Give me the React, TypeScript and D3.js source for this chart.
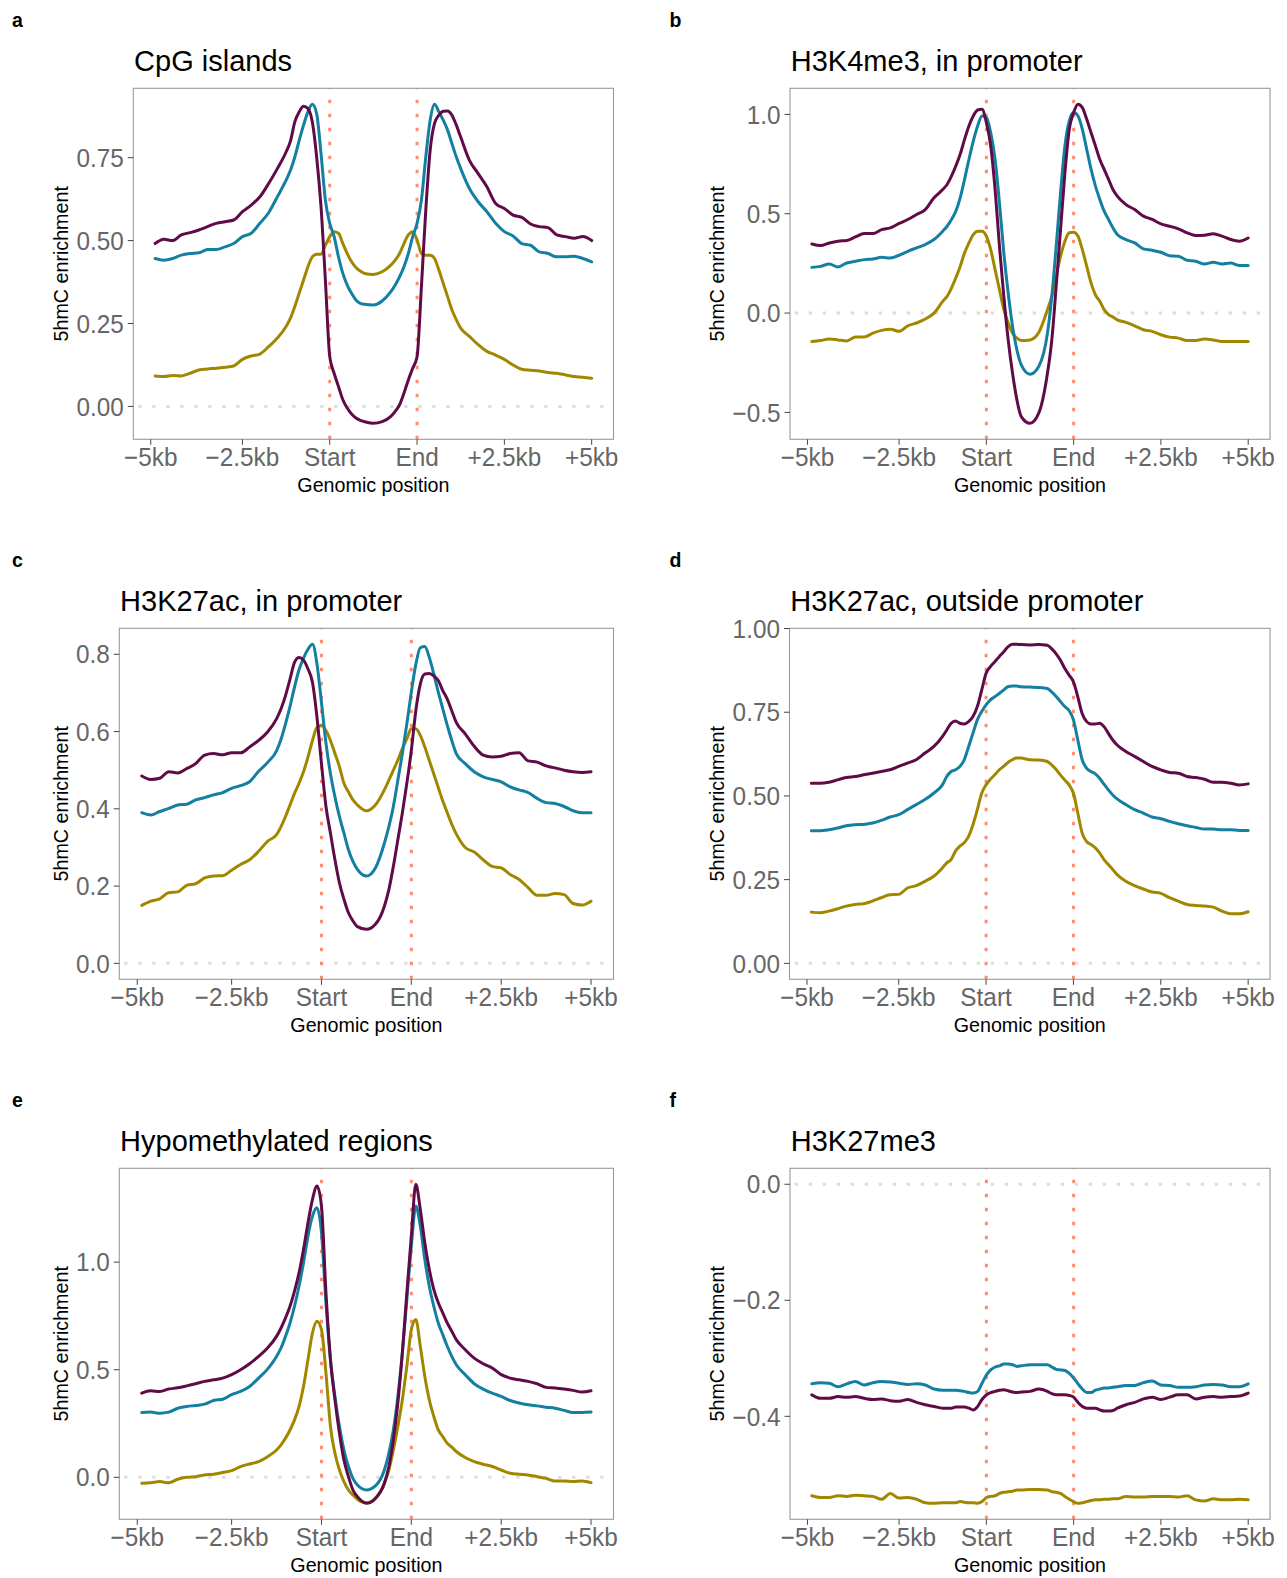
import React from 'react';
import * as d3 from 'd3';

// Shared x positions (bins; -5kb tick at -1, Start at 40, End at 60, +5kb at 100)
const POS = [
  0, 2, 4, 6, 8, 10, 12, 14, 16, 18, 20, 22, 24, 26, 28, 30,
  31, 32, 33, 34, 35, 36, 37, 38, 39, 40, 41, 42, 43, 44, 45, 46, 47, 48,
  50, 52,
  54, 55, 56, 57, 58, 59, 60, 61, 62, 63, 64, 65, 66, 67, 68, 69, 70,
  72, 74, 76, 78, 80, 82, 84, 86, 88, 90, 92, 94, 96, 98, 100,
];
const X_TICKS = [-1, 20, 40, 60, 80, 100];
const X_TICK_LABELS = ['\u22125kb', '\u22122.5kb', 'Start', 'End', '+2.5kb', '+5kb'];
const BOUNDARIES = [40, 60];

const COLOR_PURPLE = '#600b46';
const COLOR_TEAL = '#137fa1';
const COLOR_OLIVE = '#a18700';

// a: CpG islands
const A_PURPLE = [
  0.491, 0.504, 0.5, 0.517, 0.524, 0.532, 0.542, 0.552, 0.557, 0.562, 0.587, 0.607, 0.632, 0.672, 0.717, 0.767,
  0.8, 0.858, 0.888, 0.905, 0.898, 0.858, 0.752, 0.602, 0.381, 0.15, 0.1, 0.06, 0.02, -0.005, -0.023, -0.035, -0.042, -0.046,
  -0.051, -0.046,
  -0.03, -0.015, 0.005, 0.04, 0.08, 0.115, 0.15, 0.361, 0.592, 0.772, 0.853, 0.878, 0.89, 0.891, 0.878, 0.848, 0.812,
  0.742, 0.702, 0.662, 0.612, 0.597, 0.577, 0.57, 0.55, 0.542, 0.539, 0.517, 0.512, 0.507, 0.512, 0.5,
];
const A_TEAL = [
  0.446, 0.441, 0.446, 0.456, 0.461, 0.463, 0.473, 0.473, 0.481, 0.491, 0.512, 0.522, 0.552, 0.584, 0.632, 0.682,
  0.712, 0.752, 0.802, 0.848, 0.888, 0.911, 0.883, 0.762, 0.622, 0.552, 0.512, 0.451, 0.401, 0.366, 0.341, 0.321, 0.311, 0.308,
  0.306, 0.318,
  0.346, 0.366, 0.391, 0.421, 0.461, 0.512, 0.552, 0.622, 0.752, 0.863, 0.911, 0.888, 0.863, 0.833, 0.792, 0.752, 0.717,
  0.657, 0.617, 0.587, 0.552, 0.527, 0.514, 0.491, 0.486, 0.466, 0.461, 0.451, 0.451, 0.453, 0.446, 0.436,
];
const A_OLIVE = [
  0.092, 0.09, 0.093, 0.092, 0.1, 0.11, 0.113, 0.115, 0.118, 0.122, 0.142, 0.152, 0.158, 0.18, 0.206, 0.241,
  0.266, 0.301, 0.341, 0.381, 0.421, 0.451, 0.459, 0.459, 0.486, 0.512, 0.527, 0.522, 0.491, 0.461, 0.436, 0.419, 0.408, 0.401,
  0.398, 0.406,
  0.426, 0.441, 0.461, 0.491, 0.517, 0.527, 0.502, 0.461, 0.456, 0.456, 0.446, 0.411, 0.371, 0.331, 0.291, 0.261, 0.236,
  0.211, 0.186, 0.166, 0.155, 0.142, 0.125, 0.112, 0.109, 0.107, 0.102, 0.1, 0.095, 0.09, 0.088, 0.085,
];
const A_Y_TICKS = [0, 0.25, 0.5, 0.75];
const A_Y_LABELS = ['0.00', '0.25', '0.50', '0.75'];

// b: H3K4me3, in promoter
const B_PURPLE = [
  0.348, 0.34, 0.353, 0.362, 0.365, 0.383, 0.4, 0.4, 0.42, 0.429, 0.451, 0.471, 0.496, 0.521, 0.58, 0.622,
  0.647, 0.689, 0.74, 0.799, 0.874, 0.942, 0.992, 1.022, 1.026, 0.958, 0.841, 0.622, 0.336, 0.084, -0.135, -0.303, -0.437, -0.521,
  -0.555, -0.504,
  -0.303, -0.135, 0.135, 0.42, 0.706, 0.925, 1.009, 1.051, 1.034, 0.975, 0.908, 0.841, 0.773, 0.723, 0.673, 0.622, 0.589,
  0.546, 0.521, 0.488, 0.471, 0.449, 0.437, 0.424, 0.404, 0.39, 0.392, 0.399, 0.387, 0.37, 0.362, 0.378,
];
const B_TEAL = [
  0.23, 0.235, 0.247, 0.232, 0.252, 0.261, 0.269, 0.272, 0.281, 0.277, 0.291, 0.311, 0.328, 0.345, 0.37, 0.412,
  0.437, 0.471, 0.513, 0.58, 0.673, 0.773, 0.866, 0.942, 0.992, 0.984, 0.908, 0.773, 0.555, 0.303, 0.101, -0.067, -0.185, -0.261,
  -0.308, -0.269,
  -0.101, 0.084, 0.336, 0.605, 0.841, 0.967, 1.009, 0.992, 0.925, 0.824, 0.723, 0.639, 0.572, 0.513, 0.471, 0.429, 0.395,
  0.37, 0.353, 0.323, 0.316, 0.306, 0.289, 0.286, 0.266, 0.261, 0.247, 0.256, 0.247, 0.252, 0.239, 0.239,
];
const B_OLIVE = [
  -0.143, -0.138, -0.131, -0.135, -0.14, -0.121, -0.121, -0.101, -0.087, -0.081, -0.092, -0.064, -0.05, -0.03, 0.0, 0.059,
  0.084, 0.126, 0.177, 0.235, 0.303, 0.353, 0.395, 0.412, 0.412, 0.387, 0.319, 0.219, 0.118, 0.017, -0.05, -0.101, -0.126, -0.138,
  -0.135, -0.098,
  0.017, 0.084, 0.185, 0.286, 0.362, 0.404, 0.407, 0.387, 0.319, 0.235, 0.151, 0.092, 0.059, 0.017, -0.008, -0.02, -0.034,
  -0.047, -0.064, -0.084, -0.092, -0.109, -0.121, -0.126, -0.138, -0.138, -0.131, -0.135, -0.143, -0.143, -0.143, -0.143,
];
const B_Y_TICKS = [-0.5, 0, 0.5, 1.0];
const B_Y_LABELS = ['\u22120.5', '0.0', '0.5', '1.0'];

// c: H3K27ac, in promoter
const C_PURPLE = [
  0.485, 0.476, 0.479, 0.496, 0.493, 0.504, 0.517, 0.539, 0.543, 0.54, 0.545, 0.545, 0.56, 0.577, 0.599, 0.633,
  0.659, 0.693, 0.736, 0.779, 0.792, 0.785, 0.762, 0.727, 0.637, 0.517, 0.406, 0.337, 0.268, 0.208, 0.166, 0.131, 0.11, 0.095,
  0.088, 0.101,
  0.148, 0.191, 0.251, 0.32, 0.389, 0.466, 0.551, 0.654, 0.723, 0.749, 0.75, 0.744, 0.732, 0.706, 0.684, 0.654, 0.624,
  0.594, 0.562, 0.539, 0.534, 0.536, 0.543, 0.545, 0.524, 0.521, 0.511, 0.506, 0.5, 0.496, 0.494, 0.496,
];
const C_TEAL = [
  0.39, 0.384, 0.393, 0.401, 0.41, 0.412, 0.423, 0.429, 0.436, 0.442, 0.453, 0.46, 0.47, 0.497, 0.52, 0.55,
  0.58, 0.62, 0.665, 0.715, 0.76, 0.79, 0.813, 0.826, 0.775, 0.675, 0.57, 0.491, 0.431, 0.38, 0.337, 0.294, 0.264, 0.243,
  0.226, 0.247,
  0.311, 0.354, 0.406, 0.474, 0.543, 0.62, 0.702, 0.774, 0.817, 0.82, 0.792, 0.749, 0.702, 0.659, 0.616, 0.577, 0.543,
  0.517, 0.496, 0.483, 0.476, 0.47, 0.457, 0.449, 0.442, 0.427, 0.416, 0.414, 0.406, 0.395, 0.39, 0.39,
];
const C_OLIVE = [
  0.15, 0.161, 0.167, 0.183, 0.185, 0.202, 0.206, 0.221, 0.226, 0.227, 0.241, 0.256, 0.268, 0.29, 0.316, 0.333,
  0.354, 0.38, 0.41, 0.44, 0.466, 0.496, 0.534, 0.577, 0.611, 0.616, 0.603, 0.577, 0.543, 0.509, 0.466, 0.444, 0.423, 0.41,
  0.395, 0.41,
  0.449, 0.474, 0.5, 0.526, 0.556, 0.581, 0.607, 0.607, 0.59, 0.56, 0.525, 0.49, 0.455, 0.42, 0.39, 0.36, 0.335,
  0.3, 0.288, 0.268, 0.251, 0.247, 0.23, 0.217, 0.196, 0.176, 0.176, 0.181, 0.178, 0.155, 0.151, 0.161,
];
const C_Y_TICKS = [0, 0.2, 0.4, 0.6, 0.8];
const C_Y_LABELS = ['0.0', '0.2', '0.4', '0.6', '0.8'];

// d: H3K27ac, outside promoter
const D_PURPLE = [
  0.538, 0.538, 0.541, 0.548, 0.555, 0.558, 0.563, 0.568, 0.573, 0.578, 0.588, 0.598, 0.608, 0.628, 0.647, 0.677,
  0.697, 0.717, 0.724, 0.717, 0.715, 0.722, 0.737, 0.767, 0.816, 0.866, 0.886, 0.901, 0.916, 0.93, 0.945, 0.953, 0.953, 0.952,
  0.951, 0.952,
  0.95, 0.94, 0.925, 0.906, 0.881, 0.861, 0.841, 0.796, 0.746, 0.722, 0.715, 0.715, 0.717, 0.707, 0.687, 0.667, 0.652,
  0.633, 0.618, 0.603, 0.588, 0.578, 0.57, 0.568, 0.558, 0.555, 0.55, 0.541, 0.541, 0.538, 0.533, 0.536,
];
const D_TEAL = [
  0.396, 0.396, 0.399, 0.404, 0.411, 0.414, 0.415, 0.419, 0.427, 0.437, 0.444, 0.459, 0.474, 0.489, 0.508, 0.533,
  0.558, 0.573, 0.578, 0.588, 0.608, 0.647, 0.687, 0.727, 0.752, 0.772, 0.787, 0.796, 0.806, 0.816, 0.826, 0.828, 0.828, 0.826,
  0.825, 0.824,
  0.821, 0.811, 0.798, 0.782, 0.767, 0.755, 0.727, 0.667, 0.608, 0.583, 0.573, 0.566, 0.553, 0.535, 0.518, 0.503, 0.491,
  0.474, 0.459, 0.449, 0.437, 0.432, 0.424, 0.417, 0.411, 0.406, 0.401, 0.401, 0.399, 0.399, 0.397, 0.397,
];
const D_OLIVE = [
  0.153, 0.151, 0.156, 0.163, 0.171, 0.176, 0.178, 0.186, 0.196, 0.205, 0.206, 0.225, 0.232, 0.245, 0.26, 0.285,
  0.3, 0.31, 0.335, 0.35, 0.36, 0.379, 0.414, 0.459, 0.508, 0.533, 0.55, 0.563, 0.578, 0.588, 0.6, 0.608, 0.613, 0.613,
  0.608, 0.607,
  0.603, 0.593, 0.58, 0.563, 0.548, 0.533, 0.508, 0.449, 0.389, 0.364, 0.355, 0.345, 0.33, 0.31, 0.295, 0.28, 0.265,
  0.245, 0.232, 0.222, 0.213, 0.209, 0.196, 0.186, 0.176, 0.173, 0.171, 0.168, 0.156, 0.148, 0.148, 0.154,
];
const D_Y_TICKS = [0, 0.25, 0.5, 0.75, 1.0];
const D_Y_LABELS = ['0.00', '0.25', '0.50', '0.75', '1.00'];

// e: Hypomethylated regions
const E_PURPLE = [
  0.391, 0.402, 0.399, 0.41, 0.416, 0.425, 0.435, 0.446, 0.453, 0.461, 0.477, 0.5, 0.528, 0.562, 0.601, 0.655,
  0.694, 0.741, 0.795, 0.865, 0.95, 1.059, 1.183, 1.292, 1.354, 1.261, 0.857, 0.547, 0.36, 0.205, 0.081, 0.003, -0.059, -0.09,
  -0.121, -0.098,
  -0.028, 0.05, 0.174, 0.345, 0.578, 0.857, 1.121, 1.362, 1.245, 1.09, 0.966, 0.873, 0.811, 0.764, 0.717, 0.679, 0.64,
  0.593, 0.554, 0.528, 0.508, 0.477, 0.461, 0.453, 0.446, 0.435, 0.418, 0.415, 0.41, 0.404, 0.396, 0.402,
];
const E_TEAL = [
  0.301, 0.303, 0.298, 0.303, 0.321, 0.329, 0.334, 0.34, 0.357, 0.363, 0.384, 0.399, 0.422, 0.461, 0.503, 0.562,
  0.601, 0.655, 0.717, 0.795, 0.888, 0.997, 1.121, 1.214, 1.253, 1.137, 0.811, 0.547, 0.376, 0.236, 0.127, 0.05, -0.005, -0.036,
  -0.059, -0.04,
  0.034, 0.112, 0.22, 0.376, 0.578, 0.826, 1.075, 1.261, 1.168, 1.012, 0.888, 0.795, 0.717, 0.663, 0.609, 0.562, 0.523,
  0.477, 0.435, 0.41, 0.391, 0.376, 0.357, 0.345, 0.337, 0.332, 0.326, 0.321, 0.311, 0.301, 0.301, 0.303,
];
const E_OLIVE = [
  -0.028, -0.025, -0.02, -0.025, -0.009, 0.0, 0.003, 0.011, 0.014, 0.022, 0.031, 0.05, 0.062, 0.073, 0.096, 0.127,
  0.151, 0.182, 0.22, 0.267, 0.329, 0.422, 0.547, 0.671, 0.725, 0.686, 0.484, 0.236, 0.112, 0.034, -0.02, -0.059, -0.082, -0.102,
  -0.118, -0.098,
  -0.028, 0.034, 0.127, 0.236, 0.36, 0.516, 0.686, 0.733, 0.609, 0.469, 0.36, 0.283, 0.22, 0.189, 0.158, 0.14, 0.12,
  0.092, 0.073, 0.061, 0.05, 0.034, 0.019, 0.014, 0.011, 0.003, -0.005, -0.017, -0.017, -0.02, -0.017, -0.025,
];
const E_Y_TICKS = [0, 0.5, 1.0];
const E_Y_LABELS = ['0.0', '0.5', '1.0'];

// f: H3K27me3
const F_PURPLE = [
  -0.363, -0.369, -0.369, -0.366, -0.367, -0.366, -0.369, -0.371, -0.37, -0.373, -0.374, -0.371, -0.376, -0.38, -0.383, -0.386,
  -0.386, -0.386, -0.384, -0.384, -0.384, -0.386, -0.389, -0.383, -0.371, -0.363, -0.359, -0.357, -0.355, -0.354, -0.356, -0.358, -0.359, -0.358,
  -0.357, -0.353,
  -0.357, -0.361, -0.363, -0.363, -0.363, -0.364, -0.367, -0.376, -0.383, -0.386, -0.386, -0.386, -0.389, -0.391, -0.391, -0.39, -0.386,
  -0.38, -0.376, -0.37, -0.367, -0.371, -0.367, -0.363, -0.363, -0.37, -0.367, -0.366, -0.367, -0.366, -0.365, -0.36,
];
const F_TEAL = [
  -0.344, -0.342, -0.343, -0.349, -0.344, -0.34, -0.346, -0.342, -0.34, -0.341, -0.343, -0.345, -0.344, -0.346, -0.353, -0.355,
  -0.355, -0.355, -0.355, -0.356, -0.357, -0.359, -0.36, -0.357, -0.343, -0.329, -0.32, -0.315, -0.313, -0.31, -0.31, -0.311, -0.314, -0.313,
  -0.311, -0.311,
  -0.311, -0.315, -0.319, -0.32, -0.321, -0.326, -0.334, -0.344, -0.353, -0.359, -0.359, -0.355, -0.353, -0.351, -0.351, -0.35, -0.349,
  -0.347, -0.347, -0.342, -0.339, -0.346, -0.347, -0.35, -0.35, -0.349, -0.346, -0.345, -0.346, -0.349, -0.349, -0.344,
];
const F_OLIVE = [
  -0.537, -0.54, -0.54, -0.537, -0.538, -0.536, -0.537, -0.538, -0.543, -0.533, -0.541, -0.54, -0.543, -0.549, -0.55, -0.549,
  -0.549, -0.549, -0.549, -0.547, -0.548, -0.549, -0.549, -0.55, -0.547, -0.54, -0.538, -0.537, -0.533, -0.531, -0.53, -0.529, -0.527, -0.527,
  -0.526, -0.526,
  -0.527, -0.53, -0.531, -0.533, -0.538, -0.543, -0.547, -0.55, -0.549, -0.547, -0.545, -0.544, -0.544, -0.543, -0.543, -0.542, -0.542,
  -0.538, -0.539, -0.539, -0.538, -0.538, -0.538, -0.539, -0.537, -0.544, -0.546, -0.542, -0.544, -0.544, -0.543, -0.544,
];
const F_Y_TICKS = [-0.4, -0.2, 0.0];
const F_Y_LABELS = ['\u22120.4', '\u22120.2', '0.0'];

const FONT = "'Liberation Sans', Arial, Helvetica, sans-serif";
const TICK_FONT_SIZE = 25.5;
const TICK_SCALE_X = 0.955;

type Panel = {
  letter: string;
  title: string;
  purple: number[];
  teal: number[];
  olive: number[];
  yTicks: number[];
  yLabels: string[];
  col: number;
  row: number;
  x0: number;
};

const PANELS: Panel[] = [
  { letter: 'a', title: 'CpG islands', purple: A_PURPLE, teal: A_TEAL, olive: A_OLIVE, yTicks: A_Y_TICKS, yLabels: A_Y_LABELS, col: 0, row: 0, x0: 133.3 },
  { letter: 'b', title: 'H3K4me3, in promoter', purple: B_PURPLE, teal: B_TEAL, olive: B_OLIVE, yTicks: B_Y_TICKS, yLabels: B_Y_LABELS, col: 1, row: 0, x0: 790 },
  { letter: 'c', title: 'H3K27ac, in promoter', purple: C_PURPLE, teal: C_TEAL, olive: C_OLIVE, yTicks: C_Y_TICKS, yLabels: C_Y_LABELS, col: 0, row: 1, x0: 119.3 },
  { letter: 'd', title: 'H3K27ac, outside promoter', purple: D_PURPLE, teal: D_TEAL, olive: D_OLIVE, yTicks: D_Y_TICKS, yLabels: D_Y_LABELS, col: 1, row: 1, x0: 789.5 },
  { letter: 'e', title: 'Hypomethylated regions', purple: E_PURPLE, teal: E_TEAL, olive: E_OLIVE, yTicks: E_Y_TICKS, yLabels: E_Y_LABELS, col: 0, row: 2, x0: 119.3 },
  { letter: 'f', title: 'H3K27me3', purple: F_PURPLE, teal: F_TEAL, olive: F_OLIVE, yTicks: F_Y_TICKS, yLabels: F_Y_LABELS, col: 1, row: 2, x0: 790 },
];

const COL_RIGHT = [613.5, 1270];
const COL_LETTER_X = [12, 669.5];
const COL_YTITLE_X = [67.6, 723.8];
const ROW_TOP = [88.3, 628.3, 1168.3];
const BOX_H = 351;

function expand(lo: number, hi: number): [number, number] {
  const r = hi - lo;
  return [lo - r * 0.05, hi + r * 0.05];
}

function PanelView({ p }: { p: Panel }) {
  const x0 = p.x0;
  const x1 = COL_RIGHT[p.col];
  const y0 = ROW_TOP[p.row];
  const y1 = y0 + BOX_H;
  const xExt = d3.extent(POS) as [number, number];
  const x = d3.scaleLinear().domain(expand(xExt[0], xExt[1])).range([x0, x1]);
  const all = [...p.purple, ...p.teal, ...p.olive, 0];
  const y = d3.scaleLinear().domain(expand(d3.min(all)!, d3.max(all)!)).range([y1, y0]);
  const line = d3
    .line<number>()
    .x((_, i) => x(POS[i]))
    .y((d) => y(d))
    .curve(d3.curveMonotoneX);
  const series = [
    { vals: p.olive, color: COLOR_OLIVE },
    { vals: p.teal, color: COLOR_TEAL },
    { vals: p.purple, color: COLOR_PURPLE },
  ];
  const clipId = `clip-${p.letter}`;
  const letterY = 27.3 + p.row * 540;
  return (
    <g>
      <text x={COL_LETTER_X[p.col]} y={letterY} fontFamily={FONT} fontWeight="bold" fontSize={19.5} fill="#000">
        {p.letter}
      </text>
      <text x={x0 + 0.8} y={y0 - 17.5} fontFamily={FONT} fontSize={29} fill="#000">
        {p.title}
      </text>
      <defs>
        <clipPath id={clipId}>
          <rect x={x0} y={y0} width={x1 - x0} height={y1 - y0} />
        </clipPath>
      </defs>
      <rect x={x0} y={y0} width={x1 - x0} height={y1 - y0} fill="#fff" />
      <g clipPath={`url(#${clipId})`}>
        <line
          x1={x1}
          x2={x0}
          y1={y(0)}
          y2={y(0)}
          stroke="#dddddd"
          strokeWidth={3}
          strokeDasharray="3.3 10.7"
          strokeDashoffset={-10}
        />
        {BOUNDARIES.map((b) => (
          <line
            key={b}
            x1={x(b)}
            x2={x(b)}
            y1={y1}
            y2={y0}
            stroke="#f98f72"
            strokeWidth={3}
            strokeDasharray="3.5 10.5"
          />
        ))}
        {series.map((s, i) => (
          <path key={i} d={line(s.vals) || ''} fill="none" stroke={s.color} strokeWidth={3} strokeLinejoin="round" strokeLinecap="round" />
        ))}
      </g>
      <rect x={x0} y={y0} width={x1 - x0} height={y1 - y0} fill="none" stroke="#9a9a9a" strokeWidth={1.1} />
      {p.yTicks.map((t, i) => (
        <g key={i}>
          <line x1={x0 - 5.5} x2={x0} y1={y(t)} y2={y(t)} stroke="#444" strokeWidth={1} />
          <g transform={`translate(${x0 - 9.5},${y(t)}) scale(${TICK_SCALE_X},1)`}>
            <text x={0} y={0} dy="0.36em" textAnchor="end" fontFamily={FONT} fontSize={TICK_FONT_SIZE} fill="#666">
              {p.yLabels[i]}
            </text>
          </g>
        </g>
      ))}
      {X_TICKS.map((t, i) => (
        <g key={i}>
          <line x1={x(t)} x2={x(t)} y1={y1} y2={y1 + 5.5} stroke="#444" strokeWidth={1} />
          <g transform={`translate(${x(t)},${y1 + 27}) scale(${TICK_SCALE_X},1)`}>
            <text x={0} y={0} textAnchor="middle" fontFamily={FONT} fontSize={TICK_FONT_SIZE} fill="#666">
              {X_TICK_LABELS[i]}
            </text>
          </g>
        </g>
      ))}
      <text x={(x0 + x1) / 2} y={y1 + 52.3} textAnchor="middle" fontFamily={FONT} fontSize={19.7} fill="#000">
        Genomic position
      </text>
      <text
        transform={`translate(${COL_YTITLE_X[p.col]},${(y0 + y1) / 2}) rotate(-90)`}
        textAnchor="middle"
        fontFamily={FONT}
        fontSize={19.7}
        fill="#000"
      >
        5hmC enrichment
      </text>
    </g>
  );
}

export default function App() {
  return (
    <svg
      width={1287}
      height={1578}
      viewBox="0 0 1287 1578"
      style={{ position: 'absolute', left: 0, top: 0, background: '#fff' }}
    >
      <rect x={0} y={0} width={1287} height={1578} fill="#fff" />
      {PANELS.map((p) => (
        <PanelView key={p.letter} p={p} />
      ))}
    </svg>
  );
}
